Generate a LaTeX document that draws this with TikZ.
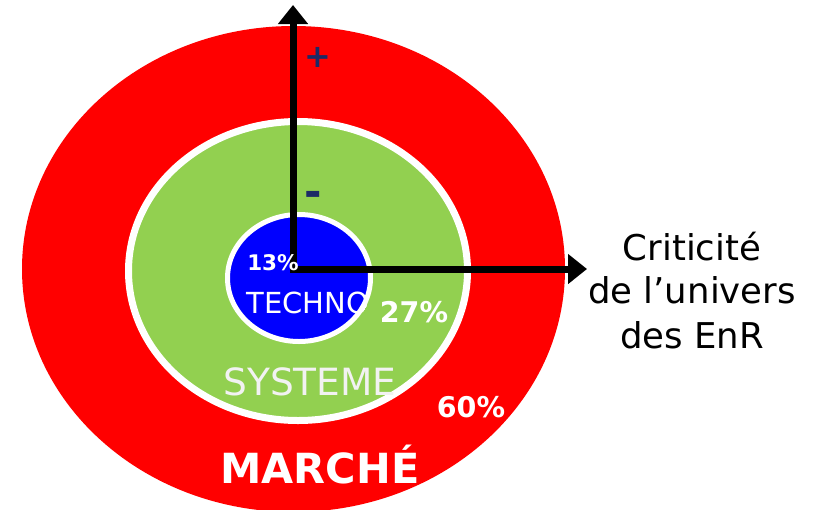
\documentclass[tikz,border=0pt]{standalone}
\usepackage{fontspec}
\setmainfont{DejaVu Sans}
\usetikzlibrary{arrows.meta,shapes.geometric}

\definecolor{ringred}{RGB}{255,0,0}
\definecolor{ringgreen}{RGB}{146,208,80}
\definecolor{coreblue}{RGB}{0,0,255}
\definecolor{signnavy}{RGB}{28,42,102}

\newcommand{\fs}[1]{\fontsize{#1}{#1}\selectfont}

\tikzset{
  zone/.style={ellipse, inner sep=0pt, outer sep=0pt},
  axis/.style={line width=7pt, line join=miter,
    {Triangle[length=19pt,width=29pt]}-{Triangle[length=19pt,width=29pt]}},
  lbl/.style={inner sep=0pt, anchor=base, text=white},
  sign/.style={inner sep=0pt, text=signnavy, font=\bfseries\fs{32}},
  crit/.style={inner sep=0pt, anchor=base, text=black, font=\fs{35.5}},
}

\begin{document}
\begin{tikzpicture}[x=1pt,y=-1pt]
  \useasboundingbox (0,0) rectangle (813,509);
  \fill[white] (0,0) rectangle (813,509);

  \begin{scope}
    \clip (0,0) rectangle (813,509);
    % concentric zones
    \node[zone, fill=ringred, minimum width=543pt, minimum height=486pt]
      (marche) at (293.5,269) {};
    \node[zone, fill=ringgreen, draw=white, line width=7pt,
      minimum width=339pt, minimum height=299pt] (systeme) at (298,271) {};
    \node[zone, fill=coreblue, minimum width=143pt, minimum height=127pt]
      (techno) at (299,278) {};
  \end{scope}

  % TECHNO label is cut by the outline of the core zone
  \begin{scope}
    \clip (299,278) ellipse [x radius=74pt, y radius=66pt];
    \node[lbl, font=\fs{29}] (technolbl) at (308,313) {TECHNO};
  \end{scope}
  \draw[white, line width=5pt] (299,278) ellipse [x radius=71.5pt, y radius=63.5pt];

  % axes
  \coordinate (o) at (293,269);
  \coordinate (ytip) at (293,5);
  \coordinate (xtip) at (587,269);
  \draw[axis] (ytip) -- (o) -- (xtip);

  % signs on the vertical axis
  \node[sign] (plus) at (318,57) {+};
  \node[sign, font=\bfseries\fs{42}] (minus) at (313,199) {-};

  % shares and zone names
  \node[lbl, font=\bfseries\fs{21.5}] (p13) at (273,270) {13\%};
  \node[lbl, font=\bfseries\fs{28.5}] (p27) at (414,322) {27\%};
  \node[lbl, font=\fs{37.5}, text=white!95!black] (systemelbl) at (310,395) {SYSTEME};
  \node[lbl, font=\bfseries\fs{28.5}] (p60) at (471,417) {60\%};
  \node[lbl, font=\bfseries\fs{41.5}] (marchelbl) at (320,483) {MARCHÉ};

  % horizontal axis caption
  \node[crit] (crit1) at (692,260) {Criticité};
  \node[crit] (crit2) at (692,303) {de l’univers};
  \node[crit] (crit3) at (692,348) {des EnR};
\end{tikzpicture}
\end{document}
